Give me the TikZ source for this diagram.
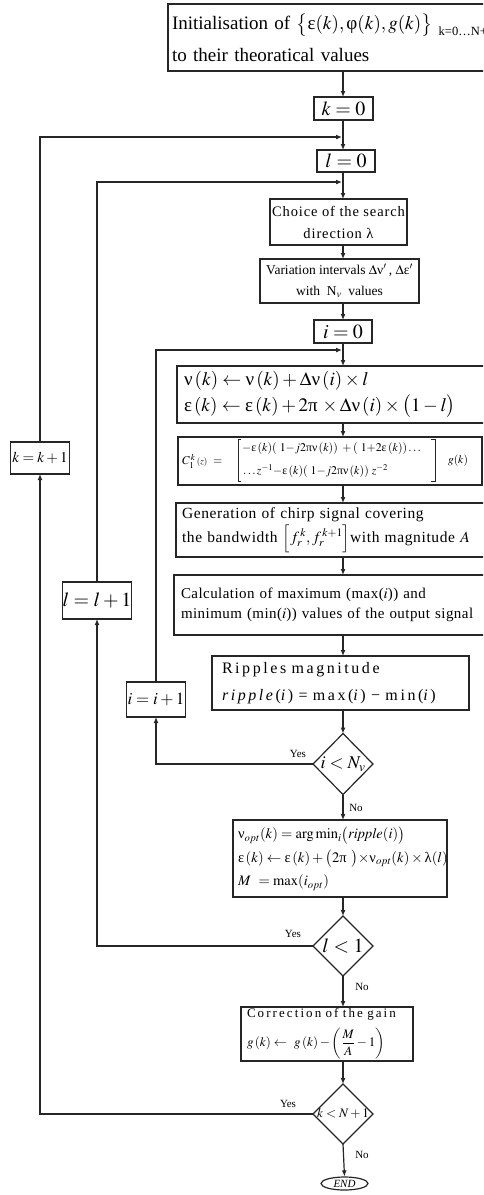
\documentclass[tikz,border=0pt]{standalone}
\usepackage{mathptmx}
\usepackage{fontspec}
\setmainfont{Liberation Serif}
\usetikzlibrary{arrows.meta,shapes.geometric}
\newcommand\Gnu{\mbox{ν}}
\newcommand\Geps{\mbox{ε}}
\newcommand\Gphi{\mbox{φ}}
\newcommand\Glam{\mbox{λ}}
\newcommand\Gpi{\mbox{π}}
\tikzset{
 ln/.style={draw=black!85, line width=1.2pt},
 arr/.style={ln, -{Latex[length=6pt,width=5pt]}},
 bx/.style={ln, rectangle, inner sep=0pt, outer sep=0pt},
 dia/.style={ln, diamond, inner sep=0pt, outer sep=0pt, minimum width=60pt, minimum height=61pt},
 lbl/.style={inner sep=0pt, font=\fontsize{11}{11}\selectfont},
 brk/.style={draw=black!85, line width=0.8pt},
}
\begin{document}
\begin{tikzpicture}[x=1pt,y=-1pt]
\useasboundingbox (0,0) rectangle (483,1195);
\clip (0,0) rectangle (483,1195);
\coordinate (mx) at (343,0);
\coordinate (jk) at (342,137);
\coordinate (jl) at (342,182);
\coordinate (ji) at (342,350);

\node[bx, minimum width=352pt, minimum height=67pt, text width=344pt, align=left, font=\fontsize{19}{32}\selectfont] (init) at (344,37.5)
 {\mbox{Initialisation of $\bigl\{\Geps(k),\Gphi(k),g(k)\bigr\}$\raisebox{-6pt}{\fontsize{12.5}{12.5}\selectfont\ k=0\ldots N+1}}\\to their theoratical values};
\node[bx, minimum width=59pt, minimum height=23pt, font=\fontsize{20}{20}\selectfont] (k0) at (343.5,108.5) {$k=0$};
\node[bx, minimum width=58pt, minimum height=22pt, font=\fontsize{20}{20}\selectfont] (l0) at (346,161) {$l=0$};
\node[bx, minimum width=137pt, minimum height=46pt, align=center, font=\fontsize{14.5}{22}\selectfont\addfontfeatures{LetterSpace=6}] (ch) at (338.5,222) {Choice of the search\\direction \Glam};
\node[bx, minimum width=159pt, minimum height=44pt, align=center, font=\fontsize{13.5}{21}\selectfont] (var) at (339.5,281) {Variation intervals $\Delta\Gnu'$\,, $\Delta\Geps'$\\with\ \ N$_v$\ \ values};
\node[bx, minimum width=58pt, minimum height=23pt, font=\fontsize{20}{20}\selectfont] (i0) at (343,331.5) {$i=0$};
\node[bx, minimum width=343pt, minimum height=57pt, text width=329pt, align=left, font=\fontsize{19}{26}\selectfont] (nu) at (348.5,394.5)
 {\mbox{$\Gnu\,(k)\leftarrow\Gnu\,(k)+\Delta\Gnu\,(i)\times l$}\\\mbox{$\Geps\,(k)\leftarrow\Geps\,(k)+2\Gpi\,\times\Delta\Gnu\,(i)\times\bigl(1-l\bigr)$}};
\node[bx, minimum width=304pt, minimum height=48pt] (cb) at (330,461) {};
\node[font=\fontsize{12}{12}\selectfont, anchor=west, inner sep=0pt] (c1) at (182,461) {$C_1^{\,k}\,{\scriptstyle(z)}\ =$};
\node[font=\fontsize{11.8}{11.8}\selectfont, anchor=west, inner sep=0pt] (r1) at (242,449) {$-\Geps\,(k)(\ 1{-}j2\Gpi\Gnu\,(k))\ +(\ 1{+}2\Geps\,(k))\ldots$};
\node[font=\fontsize{11.8}{11.8}\selectfont, anchor=west, inner sep=0pt] (r2) at (243,471) {$\ldots z^{-1}{-}\Geps\,(k)(\ 1{-}j2\Gpi\Gnu\,(k))\ z^{-2}$};
\node[font=\fontsize{11.5}{11.5}\selectfont, inner sep=0pt] (gk) at (458,461) {$g(k)$};
\draw[brk] (241,439) -- (238,439) -- (238,481) -- (241,481);
\draw[brk] (431,439) -- (435,439) -- (435,481) -- (431,481);
\node[bx, minimum width=344pt, minimum height=54pt, text width=332pt, align=left, font=\fontsize{15.5}{24}\selectfont\addfontfeatures{LetterSpace=4}] (gen) at (348,530)
 {Generation of chirp signal covering\\\mbox{the bandwidth $\Bigl[f_r^{\,k}, f_r^{\,k+1}\Bigr]$with magnitude $A$}};
\node[bx, minimum width=346pt, minimum height=60pt, text width=332pt, align=left, font=\fontsize{15}{20}\selectfont\addfontfeatures{LetterSpace=3}] (calc) at (347,605)
 {Calculation of maximum (max($i$)) and\\\mbox{minimum (min($i$)) values of the output signal}};
\node[bx, minimum width=257pt, minimum height=54pt, text width=237pt, align=left, font=\fontsize{16}{27}\selectfont\addfontfeatures{LetterSpace=16}] (rip) at (340.5,683)
 {Ripples magnitude\\\mbox{\textit{ripple}(\textit{i}) = max(\textit{i}) − min(\textit{i})}};
\node[dia] (d1) at (343,764) {};
\node[inner sep=0pt, font=\fontsize{18}{18}\selectfont] at (d1) {$i<N_v$};
\node[bx, minimum width=214pt, minimum height=77pt, text width=204pt, align=left, font=\fontsize{14.5}{23.5}\selectfont] (nopt) at (340,858.5)
 {\mbox{$\Gnu_{opt}(k)=\arg\min_i\bigl(\mathit{ripple}(i)\bigr)$}\\\mbox{$\Geps\,(k)\leftarrow\Geps\,(k)+\bigl(2\Gpi\ \bigr){\times}\Gnu_{opt}(k)\times\Glam(l)$}\\\mbox{$M\ =\max(i_{opt})$}};
\node[dia, minimum height=60pt] (d2) at (343,946) {};
\node[inner sep=0pt, font=\fontsize{20}{20}\selectfont] at (d2) {$l<1$};
\node[bx, minimum width=172pt, minimum height=54pt, text width=160pt, align=left, font=\fontsize{13}{29}\selectfont] (corr) at (327,1034)
 {{\addfontfeatures{LetterSpace=16}Correction of the gain}\\\mbox{$g\,(k)\leftarrow\ g\,(k)-\left(\displaystyle\frac{M}{A}-1\right)$}};
\node[dia, minimum height=60pt] (d3) at (343,1114) {};
\node[inner sep=0pt, font=\fontsize{13}{13}\selectfont] at (d3) {$k<N+1$};
\node[ln, ellipse, minimum width=47pt, minimum height=13pt, inner sep=0pt, font=\fontsize{11}{11}\selectfont\itshape] (end) at (344.5,1183.5) {END};
\node[bx, minimum width=59pt, minimum height=32pt, font=\fontsize{15}{15}\selectfont] (kk) at (40,458) {$k=k+1$};
\node[bx, minimum width=62pt, minimum height=37pt, font=\fontsize{20}{20}\selectfont] (ll) at (97,600.5) {$l=l+1$};
\node[bx, minimum width=59pt, minimum height=35pt, font=\fontsize{17}{17}\selectfont] (ii) at (156,699.5) {$i=i+1$};

\draw[arr] (init.south -| mx) -- (k0.north -| mx);
\draw[arr] (k0.south -| mx) -- (l0.north -| mx);
\draw[arr] (l0.south -| mx) -- (ch.north -| mx);
\draw[arr] (ch.south -| mx) -- (var.north -| mx);
\draw[arr] (var.south -| mx) -- (i0.north -| mx);
\draw[arr] (i0.south -| mx) -- (nu.north -| mx);
\draw[arr] (nu.south -| mx) -- (cb.north -| mx);
\draw[arr] (cb.south -| mx) -- (gen.north -| mx);
\draw[arr] (gen.south -| mx) -- (calc.north -| mx);
\draw[arr] (calc.south -| mx) -- (rip.north -| mx);
\draw[arr] (rip.south -| mx) -- (d1.north);
\draw[arr] (d1.south) -- (nopt.north -| mx);
\draw[arr] (nopt.south -| mx) -- (d2.north);
\draw[arr] (d2.south) -- (corr.north -| mx);
\draw[arr] (corr.south -| mx) -- (d3.north);
\draw[arr] (d3.south) -- (end.north);

\draw[arr] (d1.west) -| (ii.south);
\draw[arr] (ii.north) |- (ji);
\draw[arr] (d2.west) -| (ll.south);
\draw[arr] (ll.north) |- (jl);
\draw[arr] (d3.west) -| (kk.south);
\draw[arr] (kk.north) |- (jk);

\node[lbl] at (298,754) {Yes};
\node[lbl] at (293,934) {Yes};
\node[lbl] at (288,1104) {Yes};
\node[lbl] at (356,808) {No};
\node[lbl] at (362,987) {No};
\node[lbl] at (362,1155) {No};
\end{tikzpicture}
\end{document}
